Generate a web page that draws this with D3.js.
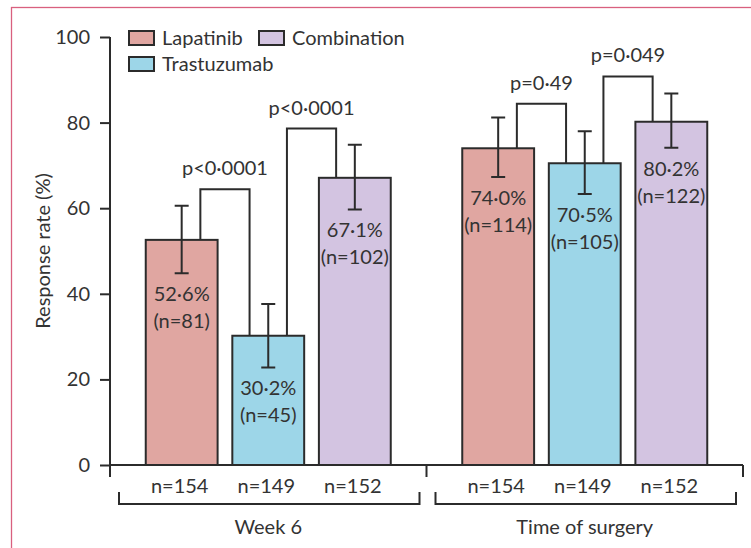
<!DOCTYPE html>
<html lang="en">
<head>
  <meta charset="UTF-8">
  <title>Response rate by treatment</title>
  <script src="https://d3js.org/d3.v7.min.js"></script>
  <style>
    body {
      margin: 0;
      background: #fff;
      font-family: Lato, "Open Sans", sans-serif;
    }
    text {
      fill: #333;
      font-size: 20px;
    }
  </style>
</head>
<body>
  <div id="chart"></div>

  <script>
    // Data
    var groups = ["Week 6", "Time of surgery"];
    var series = ["Lapatinib", "Trastuzumab", "Combination"];
    var colors = ["#e0a6a1", "#9dd6e8", "#d3c4e1"];
    var rates = [[52.6, 30.2, 67.1], [74.0, 70.5, 80.2]];
    var ciLow = [[44.8, 22.8, 59.7], [67.3, 63.3, 74.1]];
    var ciHigh = [[60.6, 37.6, 74.8], [81.2, 78.0, 86.8]];
    var responders = [[81, 45, 102], [114, 105, 122]];
    var totals = [[154, 149, 152], [154, 149, 152]];
    var pLabels = [["p<0·0001", "p<0·0001"], ["p=0·49", "p=0·049"]];
    var pLevels = [[64.4, 78.6], [84.4, 90.8]];
    var yTicks = [0, 20, 40, 60, 80, 100];

    var W = 751, H = 548;
    var ink = "#2b2b2b";

    var svg = d3.select("#chart").append("svg")
      .attr("width", W)
      .attr("height", H);

    // pink frame (only left and top visible)
    svg.append("rect")
      .attr("x", 11.5).attr("y", 7.5)
      .attr("width", W + 20).attr("height", H + 20)
      .attr("fill", "none")
      .attr("stroke", "#d9607f")
      .attr("stroke-width", 1.3);

    var y = d3.scaleLinear().domain([0, 100]).range([465, 37]);
    var x0 = d3.scaleBand().domain(groups).range([110, 743]);
    var half = 122.5;
    var x1 = d3.scaleBand().domain(series).range([-half, half]).paddingInner(0.17);
    var bw = x1.bandwidth();

    function cx(gi, si) {
      return x0(groups[gi]) + x0.bandwidth() / 2 + x1(series[si]) + bw / 2;
    }

    // y axis
    var yAxis = svg.append("g")
      .attr("transform", "translate(110,0)")
      .call(d3.axisLeft(y).tickValues(yTicks).tickSize(10).tickSizeOuter(0).tickPadding(10));
    yAxis.select(".domain").remove();
    yAxis.selectAll("line").attr("stroke", ink).attr("stroke-width", 2);
    yAxis.selectAll("text").attr("font-size", 20).attr("font-family", "Lato, sans-serif").attr("fill", "#333");

    svg.append("line")
      .attr("x1", 110).attr("x2", 110)
      .attr("y1", y(100)).attr("y2", y(0) + 12)
      .attr("stroke", ink).attr("stroke-width", 2);

    svg.append("text")
      .attr("transform", "translate(43," + (y(50)) + ") rotate(-90)")
      .attr("text-anchor", "middle")
      .attr("dy", "0.35em")
      .text("Response rate (%)");

    // x baseline and group separators
    var xEnd = x0.range()[1];
    svg.append("line")
      .attr("x1", 110).attr("x2", xEnd)
      .attr("y1", y(0)).attr("y2", y(0))
      .attr("stroke", ink).attr("stroke-width", 2);
    groups.forEach(function(g, gi) {
      var edge = x0(g) + x0.bandwidth();
      svg.append("line")
        .attr("x1", edge).attr("x2", edge)
        .attr("y1", y(0)).attr("y2", y(0) + 12)
        .attr("stroke", ink).attr("stroke-width", 2);
    });

    // group brackets and labels
    groups.forEach(function(g, gi) {
      var a = x0(g) + 9, b = x0(g) + x0.bandwidth() - 7;
      svg.append("path")
        .attr("d", "M" + a + "," + (y(0) + 27) + "V" + (y(0) + 39) + "H" + b + "V" + (y(0) + 27))
        .attr("fill", "none")
        .attr("stroke", ink).attr("stroke-width", 2);
      svg.append("text")
        .attr("x", x0(g) + x0.bandwidth() / 2)
        .attr("y", y(0) + 62)
        .attr("dy", "0.35em")
        .attr("text-anchor", "middle")
        .text(g);
    });

    // bars
    groups.forEach(function(g, gi) {
      var grp = svg.append("g");
      series.forEach(function(s, si) {
        var c = cx(gi, si);
        grp.append("rect")
          .attr("x", c - bw / 2)
          .attr("y", y(rates[gi][si]))
          .attr("width", bw)
          .attr("height", y(0) - y(rates[gi][si]))
          .attr("fill", colors[si])
          .attr("stroke", ink)
          .attr("stroke-width", 2);

        // error bar
        var lo = y(ciLow[gi][si]), hi = y(ciHigh[gi][si]);
        grp.append("path")
          .attr("d", "M" + (c - 7) + "," + hi + "H" + (c + 7) +
                     "M" + c + "," + hi + "V" + lo +
                     "M" + (c - 7) + "," + lo + "H" + (c + 7))
          .attr("fill", "none")
          .attr("stroke", ink).attr("stroke-width", 2);

        // value labels
        grp.append("text")
          .attr("x", c).attr("y", lo + 21)
          .attr("dy", "0.35em")
          .attr("text-anchor", "middle")
          .text(rates[gi][si].toFixed(1).replace(".", "·") + "%");
        grp.append("text")
          .attr("x", c).attr("y", lo + 48)
          .attr("dy", "0.35em")
          .attr("text-anchor", "middle")
          .text("(n=" + responders[gi][si] + ")");

        // totals under the axis
        grp.append("text")
          .attr("x", c - 2).attr("y", y(0) + 21)
          .attr("dy", "0.35em")
          .attr("text-anchor", "middle")
          .text("n=" + totals[gi][si]);
      });

      // significance brackets between neighbouring bars
      pLabels[gi].forEach(function(lab, pi) {
        var xa = cx(gi, pi) + bw * 0.26;
        var xb = cx(gi, pi + 1) - bw * 0.26;
        var top = y(pLevels[gi][pi]);
        grp.append("path")
          .attr("d", "M" + xa + "," + y(rates[gi][pi]) + "V" + top + "H" + xb + "V" + y(rates[gi][pi + 1]))
          .attr("fill", "none")
          .attr("stroke", ink).attr("stroke-width", 2);
        grp.append("text")
          .attr("x", (xa + xb) / 2).attr("y", top - 21)
          .attr("dy", "0.35em")
          .attr("text-anchor", "middle")
          .text(lab);
      });
    });

    // legend
    var legendPos = [[129, 38], [129, 64], [259, 38]];
    series.forEach(function(s, si) {
      var lg = svg.append("g")
        .attr("transform", "translate(" + legendPos[si][0] + "," + legendPos[si][1] + ")");
      lg.append("rect")
        .attr("x", 0).attr("y", -7)
        .attr("width", 25).attr("height", 14)
        .attr("fill", colors[si])
        .attr("stroke", ink).attr("stroke-width", 2);
      lg.append("text")
        .attr("x", 33).attr("dy", "0.35em")
        .text(s);
    });
  </script>
</body>
</html>
